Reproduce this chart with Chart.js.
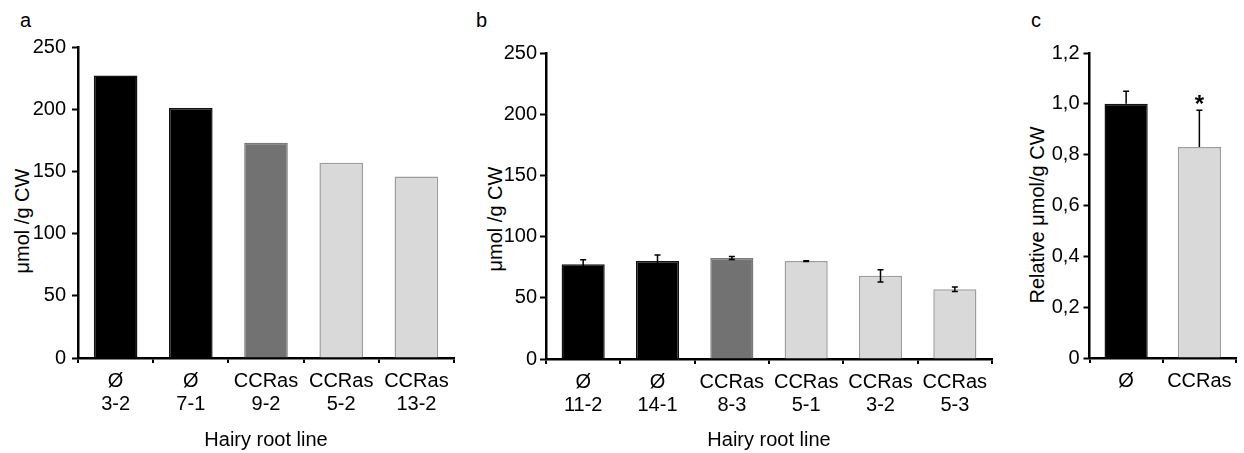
<!DOCTYPE html>
<html><head><meta charset="utf-8">
<script src="https://cdn.jsdelivr.net/npm/chart.js@4.4.0/dist/chart.umd.min.js"></script>
<style>
html,body{margin:0;padding:0;background:#fff;}
body{width:1244px;height:453px;position:relative;overflow:hidden;font-family:"Liberation Sans",Arial,sans-serif;color:#000;}
.panel{position:absolute;top:0;height:453px;}
.lbl{position:absolute;font-size:20px;line-height:24px;}
.ytitle{position:absolute;width:0;height:0;}
.ytitle span{position:absolute;left:0;top:0;transform:translate(-50%,-50%) rotate(-90deg);white-space:nowrap;font-size:20px;line-height:24px;}
</style></head>
<body>
<div class="lbl" style="left:20px;top:8px;">a</div>
<div class="lbl" style="left:476px;top:8px;">b</div>
<div class="lbl" style="left:1031px;top:8px;">c</div>
<div class="ytitle" style="left:22px;top:221px;"><span>μmol /g CW</span></div>
<div class="ytitle" style="left:495px;top:219px;"><span>μmol /g CW</span></div>
<div class="ytitle" style="left:1037px;top:215px;"><span>Relative μmol/g CW</span></div>
<div class="panel" style="left:0px;width:470px;"><canvas id="ca" width="470" height="453"></canvas></div>
<div class="panel" style="left:470px;width:530px;"><canvas id="cb" width="530" height="453"></canvas></div>
<div class="panel" style="left:1000px;width:244px;"><canvas id="cc" width="244" height="453"></canvas></div>
<script>
// ---- data ----
const labelsA = [['Ø','3-2'],['Ø','7-1'],['CCRas','9-2'],['CCRas','5-2'],['CCRas','13-2']];
const valuesA = [227, 201, 173, 157, 146];
const colorsA = ['#000000','#000000','#727272','#d9d9d9','#d9d9d9'];

const labelsB = [['Ø','11-2'],['Ø','14-1'],['CCRas','8-3'],['CCRas','5-1'],['CCRas','3-2'],['CCRas','5-3']];
const valuesB = [77.5, 80, 82.5, 80, 68, 57];
const errorsB = [3.5, 4.9, 1.3, 0.3, 5, 1.9];
const colorsB = ['#000000','#000000','#727272','#d9d9d9','#d9d9d9','#d9d9d9'];

const labelsC = ['Ø','CCRas'];
const valuesC = [1.0, 0.83];
const errorsC = [0.05, 0.145];
const colorsC = ['#000000','#d9d9d9'];

const ticksAB = {min:0, max:250, step:50};
const ticksC = {min:0, max:1.2, step:0.2};
const xTitle = 'Hairy root line';

const FONT = '"Liberation Sans", Arial, sans-serif';

const errorBarPlugin = {
  id:'errorBars',
  afterDatasetsDraw(chart, args, opts){
    if(!opts || !opts.values) return;
    const ctx = chart.ctx, y = chart.scales.y;
    const meta = chart.getDatasetMeta(0);
    const data = chart.data.datasets[0].data;
    ctx.save();
    ctx.strokeStyle = '#000'; ctx.lineWidth = 1.5;
    const cw = 3;
    opts.values.forEach((e,i)=>{
      if(e == null) return;
      const px = meta.data[i].x;
      const top = y.getPixelForValue(data[i]+e);
      const bot = opts.upperOnly ? y.getPixelForValue(data[i]) : y.getPixelForValue(data[i]-e);
      ctx.beginPath();
      ctx.moveTo(px, top); ctx.lineTo(px, bot);
      ctx.moveTo(px-cw, top); ctx.lineTo(px+cw, top);
      if(!opts.upperOnly){ ctx.moveTo(px-cw, bot); ctx.lineTo(px+cw, bot); }
      ctx.stroke();
    });
    if(opts.star != null){
      const i = opts.star;
      const px = meta.data[i].x;
      const top = y.getPixelForValue(data[i]+opts.values[i]);
      ctx.fillStyle = '#000';
      ctx.font = 'bold 24px ' + FONT;
      ctx.textAlign = 'center';
      ctx.textBaseline = 'alphabetic';
      ctx.fillText('*', px, top + 2);
    }
    ctx.restore();
  }
};

function makePanel(id, p){
  const canvasLeft = p.canvasLeft;
  const padLeft = p.yScaleLeft - canvasLeft;
  const yW = p.axisX - p.yScaleLeft;
  const padRight = canvasLeft + p.canvasWidth - p.rightX;
  const xH = 453 - p.bottomY;
  const borderColors = p.colors.map(c => c === '#d9d9d9' ? '#9c9c9c' : (c === '#727272' ? '#7a7a7a' : '#111'));
  new Chart(document.getElementById(id), {
    type:'bar',
    data:{ labels:p.labels, datasets:[{ data:p.values, backgroundColor:p.colors, borderColor:borderColors, borderWidth:1.5, barPercentage:p.barPct, categoryPercentage:1 }]},
    plugins:[errorBarPlugin],
    options:{
      responsive:false, animation:false, devicePixelRatio:1,
      layout:{ padding:{ left:padLeft, right:padRight, top:p.topY, bottom:0 } },
      plugins:{ legend:{display:false}, tooltip:{enabled:false}, errorBars:p.err },
      scales:{
        x:{
          type:'category', offset:true,
          grid:{ display:true, offset:true, drawOnChartArea:false, drawTicks:true, tickLength:5, tickWidth:2, tickColor:'#000', color:'#000', lineWidth:2 },
          border:{ display:true, color:'#000', width:2.5 },
          ticks:{ color:'#000', font:{family:FONT, size:20, lineHeight:1.15}, padding:7, maxRotation:0, minRotation:0, autoSkip:false },
          title:{ display:!!p.xTitle, text:p.xTitle || '', color:'#000', font:{family:FONT, size:20, lineHeight:1.2}, padding:{top:0, bottom:1} },
          afterFit(s){ s.height = xH; }
        },
        y:{
          min:p.ticks.min, max:p.ticks.max,
          ticks:{ stepSize:p.ticks.step, color:'#000', font:{family:FONT, size:20}, padding:p.tickPad, callback:p.tickFmt },
          grid:{ display:true, drawOnChartArea:false, drawTicks:true, tickLength:6, tickWidth:2, tickColor:'#000', color:'#000' },
          border:{ display:true, color:'#000', width:2.5 },
          afterFit(s){ s.width = yW; }
        }
      }
    }
  });
}

const fmtInt = v => String(Math.round(v));
const fmtComma = v => Math.abs(v) < 1e-9 ? '0' : v.toFixed(1).replace('.', ',');

makePanel('ca', { canvasLeft:0, canvasWidth:470, yScaleLeft:5, axisX:78, rightX:454, topY:47, bottomY:358, tickPad:6,
  labels:labelsA, values:valuesA, colors:colorsA, barPct:0.58, ticks:ticksAB, tickFmt:fmtInt, xTitle:xTitle, err:{} });
makePanel('cb', { canvasLeft:470, canvasWidth:530, yScaleLeft:480, axisX:546, rightX:992, topY:53, bottomY:359, tickPad:3,
  labels:labelsB, values:valuesB, colors:colorsB, barPct:0.58, ticks:ticksAB, tickFmt:fmtInt, xTitle:xTitle, err:{values:errorsB, upperOnly:false} });
makePanel('cc', { canvasLeft:1000, canvasWidth:244, yScaleLeft:1010, axisX:1089.5, rightX:1236, topY:53, bottomY:358, tickPad:4,
  labels:labelsC, values:valuesC, colors:colorsC, barPct:0.59, ticks:ticksC, tickFmt:fmtComma, xTitle:'', err:{values:errorsC, upperOnly:true, star:1} });
</script>
</body></html>
